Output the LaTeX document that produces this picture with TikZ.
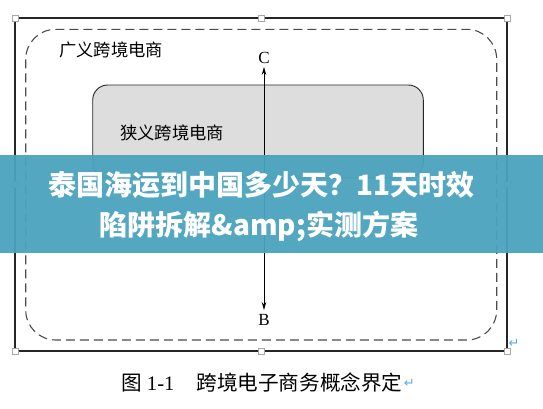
\documentclass[tikz,border=0pt]{standalone}
\usepackage{fontspec}
\setmainfont{Liberation Serif}
\newfontfamily\cjk{Noto Sans CJK SC}
\newfontfamily\symf{DejaVu Sans}
\usetikzlibrary{arrows.meta}
\definecolor{banner}{HTML}{4BA3BE}
\definecolor{retblue}{HTML}{5AA8E8}
\begin{document}
\begin{tikzpicture}[x=1pt,y=-1pt,
  handle/.style={draw=gray!70,fill=white,line width=0.6pt,minimum size=6pt,inner sep=0pt},
  lab/.style={inner sep=0pt,font=\cjk\fontsize{17.3}{17}\selectfont},
  letter/.style={inner sep=0pt,font=\fontsize{17}{17}\selectfont},
  ret/.style={inner sep=0pt,text=retblue,font=\symf\fontsize{13}{13}\selectfont},
  bantext/.style={inner sep=0pt,text=white,font=\cjk\bfseries\fontsize{28}{28}\selectfont}]
\useasboundingbox (0,0) rectangle (543,408);
\fill[white] (0,0) rectangle (543,408);
% outer frame
\draw[line width=1.3pt,gray!30!black] (15,18) rectangle (507,351);
% dashed region
\draw[line width=1.1pt,gray!60!black,dash pattern=on 9pt off 5pt,rounded corners=30pt] (25.7,29.3) rectangle (496.7,340);
% gray box
\draw[line width=0.9pt,black!85,fill=gray!27,rounded corners=15pt] (92.7,85) rectangle (423.3,178);
% labels
\node[lab,anchor=west] (wide) at (59,50) {广义跨境电商};
\node[lab,anchor=west] (narrow) at (120,133) {狭义跨境电商};
\node[letter] (C) at (264,58) {C};
\node[letter] (B) at (264,320) {B};
\draw[line width=0.8pt,{Stealth[length=8pt,width=4.5pt]}-{Stealth[length=8pt,width=4.5pt]}] (C.south) ++(0,3) coordinate (ctop) -- (B.north |- 0,310) coordinate (bbot);
% handles
\foreach \p/\n in {{15,18}/h1,{261,18}/h2,{507,18}/h3,{15,184}/h4,{507,184}/h5,{15,351}/h6,{261,351}/h7,{507,351}/h8}
  \node[handle] (\n) at (\p) {};
% caption
\node[inner sep=0pt,anchor=west,font=\fontsize{20.6}{20}\selectfont] (cap) at (121,383) {{\cjk 图} 1-1\hspace{22pt}{\cjk 跨境电子商务概念界定}};
\node[ret,anchor=west] (r1) at ([xshift=1pt]cap.east) {↵};
\node[ret] (r2) at (514,343) {↵};
% banner
\fill[banner,fill opacity=0.95] (0,155) rectangle (543,252.5);
\node[bantext] (t1) at (261.5,185) {泰国海运到中国多少天？11天时效};
\node[bantext] (t2) at (259,226) {陷阱拆解\&amp;实测方案};
\end{tikzpicture}
\end{document}
